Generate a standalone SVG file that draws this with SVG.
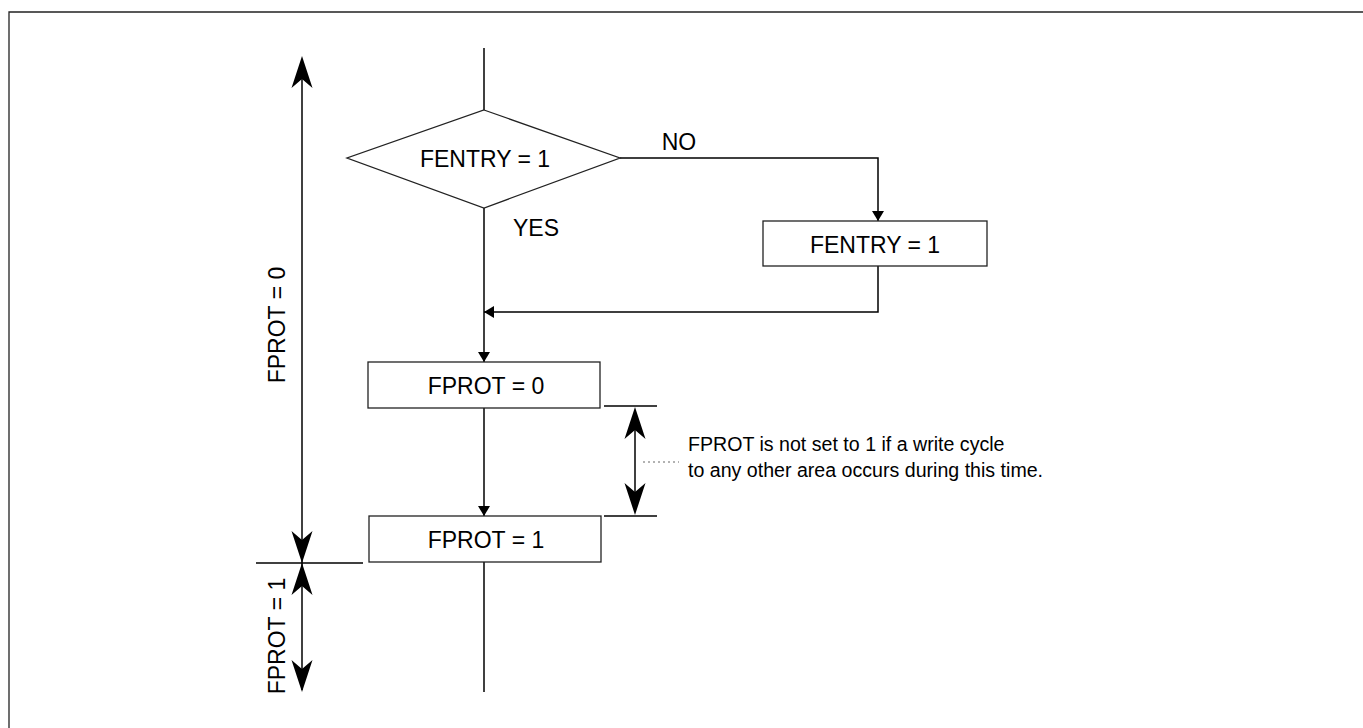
<svg xmlns="http://www.w3.org/2000/svg" width="1363" height="728" viewBox="0 0 1363 728">
<style>
  .ln{stroke:#000;stroke-width:1.5;fill:none}
  .box{stroke:#222;stroke-width:1.3;fill:#fff}
  .t{font-family:"Liberation Sans",Arial,sans-serif;font-size:23px;fill:#000}
  .n{font-size:19.6px}
  .c{text-anchor:middle;dominant-baseline:central}
  .ah{fill:#000}
</style>
<defs>
  <marker id="tri" viewBox="0 0 10 12" refX="10" refY="6" markerWidth="10" markerHeight="12" markerUnits="userSpaceOnUse" orient="auto">
    <path d="M0,0 L10,6 L0,12 Z" fill="#000"/>
  </marker>
  <path id="big" d="M0,0 L10.5,32 L0,23 L-10.5,32 Z"/>
</defs>
<rect width="1363" height="728" fill="#fff"/>
<path d="M9,728 V12 H1363" stroke="#222" stroke-width="1.3" fill="none"/>

<g id="connectors">
  <line class="ln" x1="484" y1="48" x2="484" y2="110"/>
  <polyline class="ln" points="620,158 878,158 878,221" marker-end="url(#tri)"/>
  <polyline class="ln" points="878,266 878,312 484,312" marker-end="url(#tri)"/>
  <line class="ln" x1="484" y1="208" x2="484" y2="362" marker-end="url(#tri)"/>
  <line class="ln" x1="484" y1="408" x2="484" y2="516" marker-end="url(#tri)"/>
  <line class="ln" x1="484" y1="562" x2="484" y2="692"/>
</g>

<g id="node-diamond">
  <polygon class="box" points="484,110 620,158 484,208 347,158"/>
  <text class="t c" x="485" y="159">FENTRY = 1</text>
  <text class="t c" x="679" y="142">NO</text>
  <text class="t c" x="536" y="228">YES</text>
</g>
<g id="node-fentry">
  <rect class="box" x="763" y="221" width="224" height="45"/>
  <text class="t c" x="875" y="245">FENTRY = 1</text>
</g>
<g id="node-fprot0">
  <rect class="box" x="368" y="362" width="232" height="46"/>
  <text class="t c" x="486" y="386">FPROT = 0</text>
</g>
<g id="node-fprot1">
  <rect class="box" x="369" y="516" width="232" height="46"/>
  <text class="t c" x="486" y="540">FPROT = 1</text>
</g>

<g id="timing-note">
  <line class="ln" x1="604" y1="406" x2="657" y2="406" stroke-width="1.2"/>
  <line class="ln" x1="604" y1="516" x2="657" y2="516" stroke-width="1.2"/>
  <line class="ln" x1="635" y1="410" x2="635" y2="512"/>
  <use href="#big" class="ah" transform="translate(635,407)"/>
  <use href="#big" class="ah" transform="translate(635,515) rotate(180)"/>
  <line x1="643" y1="462" x2="679" y2="462" stroke="#666" stroke-width="1" stroke-dasharray="2,3"/>
  <text class="t n" x="688" y="451">FPROT is not set to 1 if a write cycle</text>
  <text class="t n" x="688" y="477">to any other area occurs during this time.</text>
</g>

<g id="fprot-range">
  <line class="ln" x1="302" y1="60" x2="302" y2="690"/>
  <line class="ln" x1="256" y1="563" x2="363" y2="563" stroke-width="1.1"/>
  <use href="#big" class="ah" transform="translate(302,56)"/>
  <use href="#big" class="ah" transform="translate(302,563) rotate(180)"/>
  <use href="#big" class="ah" transform="translate(302,563)"/>
  <use href="#big" class="ah" transform="translate(302,692) rotate(180)"/>
  <text class="t c" transform="translate(277,325) rotate(-90)">FPROT = 0</text>
  <text class="t c" transform="translate(277,636) rotate(-90)">FPROT = 1</text>
</g>
</svg>
